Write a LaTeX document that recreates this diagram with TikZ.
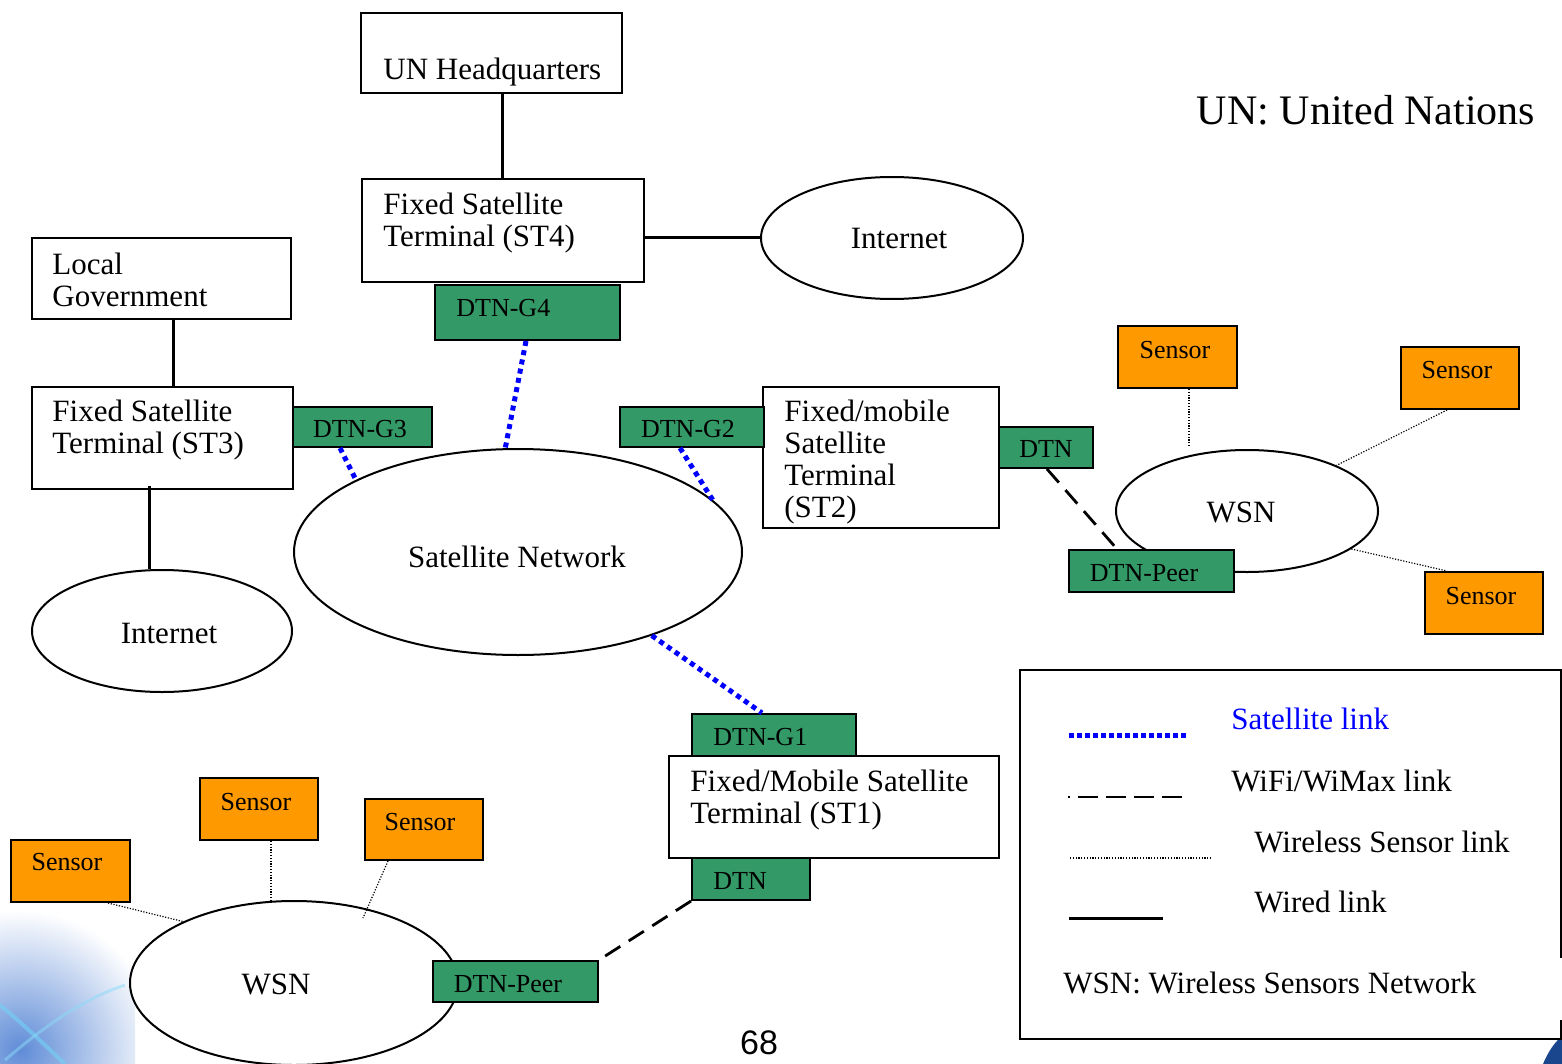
\documentclass[tikz,border=0pt]{standalone}
\usepackage{fontspec}
\setmainfont{Liberation Serif}
\newfontfamily\pagefont{Liberation Sans}
\usetikzlibrary{shapes.geometric,calc}

\definecolor{dtngreen}{RGB}{51,153,102}
\definecolor{sensororange}{RGB}{255,153,0}
\definecolor{satblue}{RGB}{0,0,255}
\definecolor{glowblue}{RGB}{95,140,215}
\definecolor{swoosh}{RGB}{25,70,140}

\tikzset{
  plainbox/.style={draw, fill=white, line width=1pt, inner sep=0pt, rectangle},
  dtnbox/.style={draw, fill=dtngreen, line width=1pt, inner sep=0pt, rectangle},
  sensorbox/.style={draw, fill=sensororange, line width=1pt, inner sep=0pt, rectangle},
  netoval/.style={draw, fill=white, ellipse, line width=1pt, inner sep=0pt},
  bigtxt/.style={font=\fontsize{15.5}{16}\selectfont, inner sep=0pt, align=left},
  smalltxt/.style={font=\fontsize{13}{14}\selectfont, inner sep=0pt},
  wired/.style={line width=1.5pt},
  satlink/.style={satblue, line width=2.5pt, dash pattern=on 2.5pt off 2.2pt},
  wifilink/.style={line width=1.4pt, dash pattern=on 9pt off 5pt},
  sensorlink/.style={line width=0.6pt, dash pattern=on 0.6pt off 0.8pt},
}

\begin{document}
\begin{tikzpicture}[x=0.5pt, y=-0.5pt]
\useasboundingbox (0,0) rectangle (1562,1064);

% soft slide-background glow, lower left
\begin{scope}
  \clip (0,880) rectangle (135,1064);
  \shade[inner color=glowblue, outer color=white] (20,1050) ellipse [x radius=140, y radius=140];
  \draw[white!45!cyan, line width=2pt, opacity=0.6] (0,1005) .. controls (30,1030) and (50,1050) .. (65,1064);
  \draw[white!55!cyan, line width=1.5pt, opacity=0.5] (5,1060) .. controls (40,1030) and (80,1000) .. (125,985);
\end{scope}
% corner swoosh, lower right
\fill[swoosh] (1543,1064) .. controls (1548,1052) and (1554,1043) .. (1562,1036) -- (1562,1064) -- cycle;

% ---------- networks (ellipses) ----------
\node[netoval, minimum width=131pt, minimum height=61pt] (inetT) at (892,238) {};
\node[netoval, minimum width=130pt, minimum height=61pt] (inetL) at (162,631) {};
\node[netoval, minimum width=224pt, minimum height=103pt] (satnet) at (518,552) {};
\node[netoval, minimum width=131pt, minimum height=61pt] (wsnR) at (1247,511) {};
\node[netoval, minimum width=164pt, minimum height=82pt] (wsnB) at (294,983) {};

\node[bigtxt] at (899,239) {Internet};
\node[bigtxt] at (169,633) {Internet};
\node[bigtxt] at (517,557) {Satellite Network};
\node[bigtxt] at (1241,512) {WSN};
\node[bigtxt] at (276,984) {WSN};

% ---------- terminals and other sites ----------
\node[plainbox, minimum width=130.5pt, minimum height=40pt] (hq) at (491.5,53) {};
\node[bigtxt, anchor=west] at (383,72) {UN Headquarters};

\node[plainbox, minimum width=141pt, minimum height=51.5pt] (st4) at (503,230.5) {};
\node[bigtxt, anchor=west] at (383,223) {Fixed Satellite\\Terminal (ST4)};

\node[plainbox, minimum width=129.5pt, minimum height=40.5pt] (lg) at (161.5,278.5) {};
\node[bigtxt, anchor=west] at (52,279.5) {Local\\Government};

\node[plainbox, minimum width=130.5pt, minimum height=51pt] (st3) at (162.5,438) {};
\node[bigtxt, anchor=west] at (52,430) {Fixed Satellite\\Terminal (ST3)};

\node[plainbox, minimum width=118pt, minimum height=70.5pt] (st2) at (881,457.5) {};
\node[bigtxt, anchor=west] at (784,462) {Fixed/mobile\\Satellite\\Terminal\\(ST2)};

% ---------- DTN gateways and peers ----------
\node[dtnbox, minimum width=92.5pt, minimum height=27.5pt] (g4) at (527.5,312.5) {};
\node[smalltxt, anchor=west] at (456,308) {DTN-G4};

\node[dtnbox, minimum width=69.5pt, minimum height=20pt] (g3) at (362.5,427) {};
\node[smalltxt] at (360,429) {DTN-G3};

\node[dtnbox, minimum width=72pt, minimum height=20pt] (g2) at (692,427) {};
\node[smalltxt] at (688,429) {DTN-G2};

\node[dtnbox, minimum width=47pt, minimum height=20.5pt] (dtnR) at (1046,447.5) {};
\node[smalltxt] at (1046,449) {DTN};

\node[dtnbox, minimum width=82.5pt, minimum height=21pt] (peerR) at (1151.5,571) {};
\node[smalltxt] at (1144,573) {DTN-Peer};

\node[dtnbox, minimum width=82pt, minimum height=21pt] (g1) at (774,735) {};
\node[smalltxt, anchor=west] at (713,737) {DTN-G1};

\node[plainbox, minimum width=165pt, minimum height=51pt] (st1) at (834,807) {};
\node[bigtxt, anchor=west] at (690,800) {Fixed/Mobile Satellite\\Terminal (ST1)};

\node[dtnbox, minimum width=59pt, minimum height=21pt] (dtnB) at (751,879) {};
\node[smalltxt, anchor=west] at (713,881) {DTN};

\node[dtnbox, minimum width=82.5pt, minimum height=20.5pt] (peerB) at (515.5,981.5) {};
\node[smalltxt] at (508,984) {DTN-Peer};

% ---------- sensors ----------
\node[sensorbox, minimum width=59.5pt, minimum height=31pt] (sR1) at (1177.5,357) {};
\node[smalltxt] at (1175,350) {Sensor};
\node[sensorbox, minimum width=59pt, minimum height=31pt] (sR2) at (1460,378) {};
\node[smalltxt] at (1457,370) {Sensor};
\node[sensorbox, minimum width=59pt, minimum height=31pt] (sR3) at (1484,603) {};
\node[smalltxt] at (1481,596) {Sensor};

\node[sensorbox, minimum width=59.5pt, minimum height=31pt] (sB1) at (70.5,871) {};
\node[smalltxt] at (67,862) {Sensor};
\node[sensorbox, minimum width=59pt, minimum height=31pt] (sB2) at (259,809) {};
\node[smalltxt] at (256,802) {Sensor};
\node[sensorbox, minimum width=59pt, minimum height=30.5pt] (sB3) at (424,829.5) {};
\node[smalltxt] at (420,822) {Sensor};

% ---------- connector columns ----------
\coordinate (c502) at (502,0);
\coordinate (c173) at (173,0);
\coordinate (c149) at (149,0);
\coordinate (c526) at (526,0);
\coordinate (c340) at (340,0);
\coordinate (c680) at (680,0);
\coordinate (c762) at (762,0);
\coordinate (c1047) at (1047,0);
\coordinate (c1117) at (1117,0);
\coordinate (c1189) at (1189,0);
\coordinate (c1447) at (1447,0);
\coordinate (c108) at (108,0);
\coordinate (c271) at (271,0);
\coordinate (c388) at (388,0);
\coordinate (wsnBin) at (363,918);

% wired links
\draw[wired] (hq.south -| c502) -- (st4.north -| c502);
\draw[wired] (inetT.west -| st4.east) -- (inetT.west);
\draw[wired] (lg.south -| c173) -- (st3.north -| c173);
\draw[wired] ([yshift=2pt]st3.south -| c149) -- (inetL.north -| c149);

% satellite links
\draw[satlink] (g4.south -| c526) -- (satnet.97);
\draw[satlink] (g3.south -| c340) -- (satnet.156);
\draw[satlink] (g2.south -| c680) -- (satnet.15);
\draw[satlink] (satnet.-32) -- (g1.north -| c762);

% WiFi/WiMax links
\draw[wifilink] (dtnR.south -| c1047) -- (peerR.north -| c1117);
\draw[wifilink] (dtnB.south west) -- (peerB.north east);

% wireless sensor links
\draw[sensorlink] (sR1.south -| c1189) -- ([yshift=1.5pt]wsnR.north -| c1189);
\draw[sensorlink] (sR2.south -| c1447) -- (wsnR.27);
\draw[sensorlink] (wsnR.-20.6) -- (sR3.north -| c1447);
\draw[sensorlink] (sB1.south -| c108) -- (wsnB.151.8);
\draw[sensorlink] (sB2.south -| c271) -- (wsnB.north -| c271);
\draw[sensorlink] (sB3.south -| c388) -- (wsnBin);

% ---------- legend ----------
\draw[line width=1pt] (1561,958) -- (1561,670) -- (1020,670) -- (1020,1039) -- (1561,1039) -- (1561,1020);
\draw[satlink, dash pattern=on 2.4pt off 1.6pt] (1069,735) -- (1187,735);
\draw[line width=1.4pt, dash pattern=on 1pt off 4pt on 10pt off 4pt on 10pt off 4pt on 10pt off 4pt on 10pt] (1068,797) -- (1182,797);
\draw[sensorlink] (1070,858) -- (1212,858);
\draw[wired] (1069,918) -- (1163,918);
\node[bigtxt, anchor=west, text=satblue] at (1231,719) {Satellite link};
\node[bigtxt, anchor=west] at (1231,781) {WiFi/WiMax link};
\node[bigtxt, anchor=west] at (1254,842) {Wireless Sensor link};
\node[bigtxt, anchor=west] at (1254,902) {Wired link};
\node[bigtxt, anchor=west] at (1063,983) {WSN: Wireless Sensors Network};

% ---------- captions ----------
\node[inner sep=0pt, font=\fontsize{21}{24}\selectfont] at (1366,110) {UN: United Nations};
\node[inner sep=0pt, font=\pagefont\fontsize{17}{20}\selectfont] at (759,1043) {68};

\end{tikzpicture}
\end{document}
